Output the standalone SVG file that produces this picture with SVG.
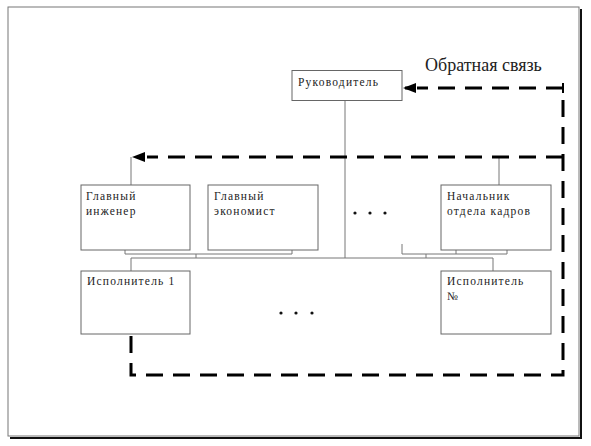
<svg xmlns="http://www.w3.org/2000/svg" width="591" height="446" viewBox="0 0 591 446">
<style>
.box{fill:#fff;stroke:#666;stroke-width:1}
.lbl{font-family:"Liberation Serif","Times New Roman",serif;font-size:11.5px;letter-spacing:1.2px;fill:#222}
.thin{fill:none;stroke:#777;stroke-width:1}
.dash{fill:none;stroke:#000;stroke-width:3;stroke-dasharray:17 10}
.dot{fill:#111}
</style>
<rect width="591" height="446" fill="#fff"/>
<g id="frame">
<path d="M581,9 V438 H10" fill="none" stroke="#111" stroke-width="2"/>
<rect x="8" y="7" width="571" height="429" fill="none" stroke="#777" stroke-width="1"/>
</g>
<g id="connectors">
<path class="thin" d="M345,100 V258"/>
<path class="thin" d="M131,271 V258 H493 V271"/>
<path class="thin" d="M125,250 V254 H292 V250 M196,254 V258"/>
<path class="thin" d="M402,244 V254 H507 V250 M456,254 V250 M426,254 V258"/>
<path class="thin" d="M131,185 V157"/>
<path class="thin" d="M499,185 V157"/>
<path class="dash" d="M563,88 H417"/>
<path d="M416,88 H405" stroke="#000" stroke-width="3"/>
<path d="M403,88 L416,83 L416,93 Z" fill="#000"/>
<path d="M563,83 V93" stroke="#000" stroke-width="2"/>
<path class="dash" d="M563,100 V375 H131 V334"/>
<path class="dash" d="M563,157 H147"/>
<path d="M132,157 L145,152 L145,162 Z" fill="#000"/>
</g>
<g id="rukovoditel">
<rect class="box" x="292" y="70.5" width="110" height="30"/>
<text class="lbl" x="298" y="86">Руководитель</text>
</g>
<g id="feedback-label">
<text x="425" y="71" style="font-family:'Liberation Serif','Times New Roman',serif;font-size:18px;fill:#222">Обратная связь</text>
</g>
<g id="glavny-inzhener">
<rect class="box" x="81" y="185" width="109" height="65"/>
<text class="lbl" x="86" y="200">Главный</text>
<text class="lbl" x="86" y="215">инженер</text>
</g>
<g id="glavny-ekonomist">
<rect class="box" x="208" y="185" width="110" height="65"/>
<text class="lbl" x="214" y="200">Главный</text>
<text class="lbl" x="214" y="215">экономист</text>
</g>
<g id="nachalnik">
<rect class="box" x="441" y="185" width="110" height="65"/>
<text class="lbl" x="447" y="200">Начальник</text>
<text class="lbl" x="447" y="215">отдела кадров</text>
</g>
<g id="ispolnitel-1">
<rect class="box" x="81" y="271" width="109" height="63"/>
<text class="lbl" x="87" y="285">Исполнитель 1</text>
</g>
<g id="ispolnitel-n">
<rect class="box" x="441" y="271" width="110" height="63"/>
<text class="lbl" x="447" y="285">Исполнитель</text>
<text class="lbl" x="447" y="300">№</text>
</g>
<g id="ellipsis-top">
<circle class="dot" cx="355" cy="213" r="1.6"/>
<circle class="dot" cx="370" cy="213" r="1.6"/>
<circle class="dot" cx="385" cy="213" r="1.6"/>
</g>
<g id="ellipsis-bottom">
<circle class="dot" cx="281" cy="313" r="1.6"/>
<circle class="dot" cx="296" cy="313" r="1.6"/>
<circle class="dot" cx="312" cy="313" r="1.6"/>
</g>
</svg>
